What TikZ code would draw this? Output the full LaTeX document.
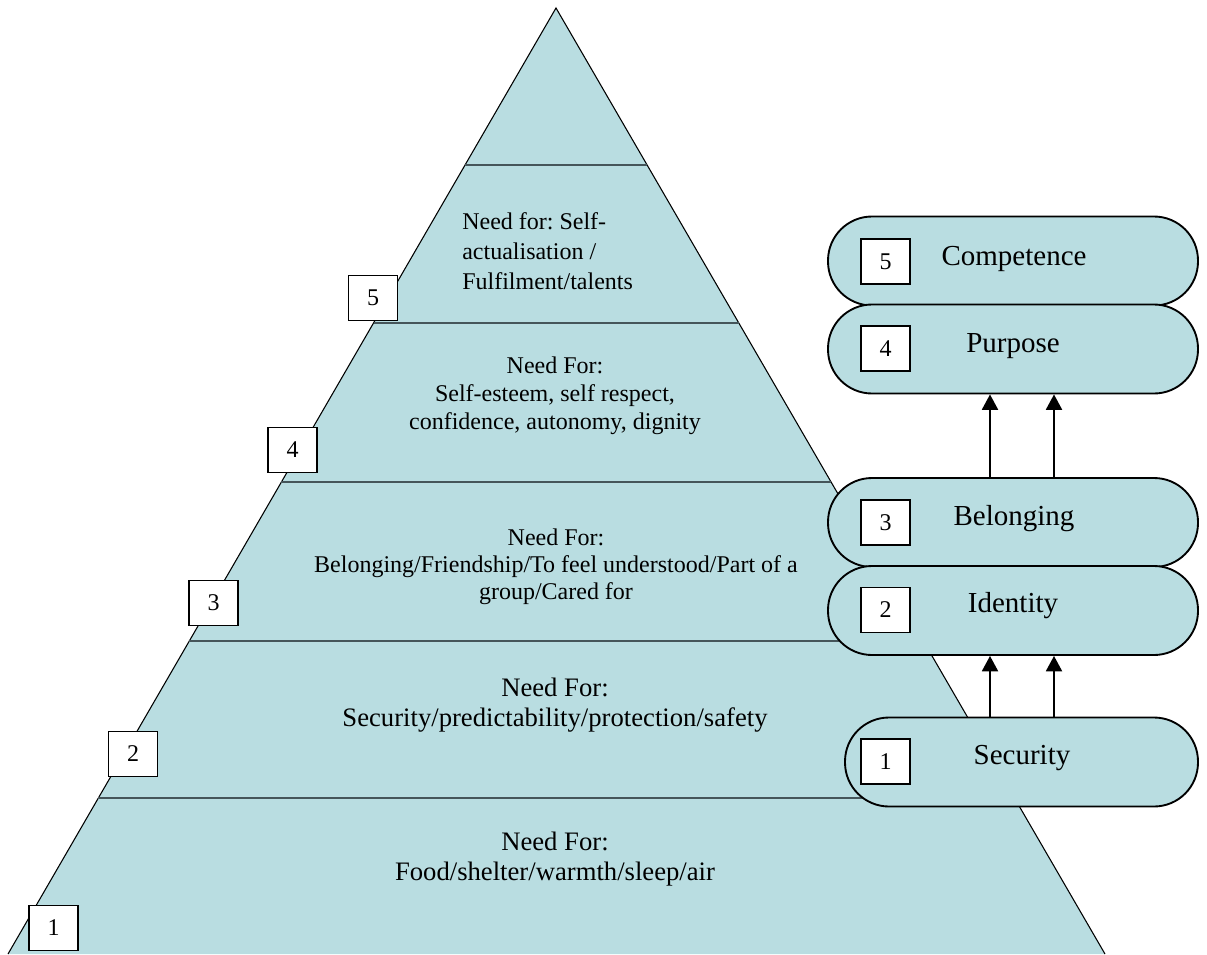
\documentclass[tikz,border=0pt]{standalone}
\usepackage{fontspec}
\setmainfont{Liberation Serif}
\usetikzlibrary{arrows.meta,calc}
\definecolor{pyr}{HTML}{B9DDE1}
\definecolor{tierline}{HTML}{45555A}
\frenchspacing
\begin{document}
\begin{tikzpicture}[x=0.75pt,y=-0.75pt,
  tier/.style={draw=tierline,line width=1.7pt},
  pill/.style={draw,fill=pyr,line width=1.4pt,rectangle,rounded corners=33pt,minimum width=277.5pt,minimum height=66.75pt,inner sep=0pt},
  numbox/.style={draw,fill=white,line width=1.1pt,minimum width=36.75pt,minimum height=33.5pt,inner sep=0pt,font=\fontsize{18}{18}\selectfont},
  pilltext/.style={anchor=base,inner sep=0pt,font=\fontsize{21.75}{24}\selectfont},
  arr/.style={line width=1.4pt,-{Triangle[width=12pt,length=11.5pt]}}]
\useasboundingbox (0,0) rectangle (1207,954);
% pyramid
\coordinate (apex) at (556,8);
\coordinate (bl) at (8,954);
\coordinate (br) at (1105,954);
\fill[pyr] (apex) -- (bl) -- (br) -- cycle;
\draw[line width=0.8pt] (bl) -- (apex) -- (br);
\foreach \y in {165,323,482,641,798} {
  \draw[tier] ($(apex)!{(\y-8)/946}!(bl)$) -- ($(apex)!{(\y-8)/946}!(br)$);
}
% tier texts
\node[align=left,anchor=west,inner sep=0pt,font=\fontsize{18}{22.5}\selectfont] (t5) at (462,251)
  {Need for: Self-\\actualisation /\\Fulfilment/talents};
\node[align=center,inner sep=0pt,font=\fontsize{18}{21}\selectfont] (t4) at (555,396)
  {Need For:\\Self-esteem, self respect,\\confidence, autonomy, dignity};
\node[align=center,inner sep=0pt,font=\fontsize{18}{20.25}\selectfont] (t3) at (556,567)
  {Need For:\\Belonging/Friendship/To feel understood/Part of a\\group/Cared for};
\node[align=center,inner sep=0pt,font=\fontsize{20}{22.5}\selectfont] (t2) at (555,705)
  {Need For:\\Security/predictability/protection/safety};
\node[align=center,inner sep=0pt,font=\fontsize{20}{22.5}\selectfont] (t1) at (555,859)
  {Need For:\\Food/shelter/warmth/sleep/air};
% pyramid number boxes
\node[numbox] (p5) at (373,298) {5};
\node[numbox] (p4) at (292.5,450) {4};
\node[numbox] (p3) at (213.5,603) {3};
\node[numbox] (p2) at (133,754) {2};
\node[numbox] (p1) at (53.5,928) {1};
% pills
\node[pill] (comp) at (1013,261) {};
\node[pill] (purp) at (1013,349) {};
\node[pill] (bel) at (1013,522.5) {};
\node[pill] (ident) at (1013,610.5) {};
\node[pill,minimum width=264.75pt] (sec) at (1021.5,762) {};
% pill labels
\node[pilltext] (lcomp) at (1014,265) {Competence};
\node[pilltext] (lpurp) at (1013,352) {Purpose};
\node[pilltext] (lbel) at (1014,525) {Belonging};
\node[pilltext] (lident) at (1013,612) {Identity};
\node[pilltext] (lsec) at (1022,764) {Security};
% pill number boxes
\node[numbox] (n5) at (885.5,261.5) {5};
\node[numbox] (n4) at (885.5,348.5) {4};
\node[numbox] (n3) at (885.5,522.5) {3};
\node[numbox] (n2) at (885.5,610) {2};
\node[numbox] (n1) at (885.5,761.5) {1};
% arrows
\coordinate (ax1) at (990,0);
\coordinate (ax2) at (1054,0);
\draw[arr] (bel.north -| ax1) -- (purp.south -| ax1);
\draw[arr] (bel.north -| ax2) -- (purp.south -| ax2);
\draw[arr] (sec.north -| ax1) -- (ident.south -| ax1);
\draw[arr] (sec.north -| ax2) -- (ident.south -| ax2);
\end{tikzpicture}
\end{document}
